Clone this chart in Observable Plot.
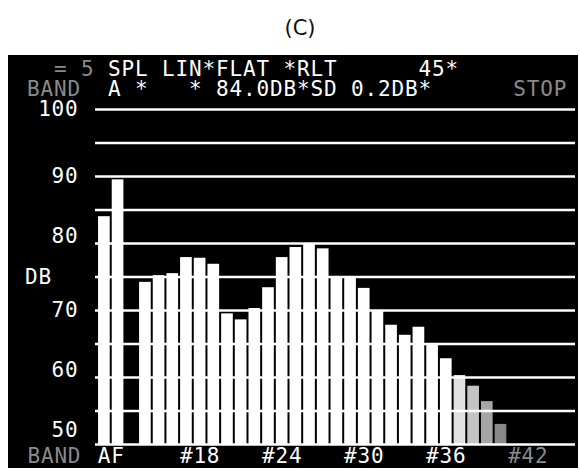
<!DOCTYPE html>
<html>
<head>
<meta charset="utf-8">
<script src="https://cdn.jsdelivr.net/npm/d3@7"></script>
<script src="https://cdn.jsdelivr.net/npm/@observablehq/plot@0.6"></script>
<style>
  html, body { margin: 0; padding: 0; background: #fff; }
  body { width: 580px; height: 470px; position: relative; overflow: hidden; }
  #title { position: absolute; left: 250px; top: 16px; width: 100px; text-align: center;
           font-family: "DejaVu Sans", sans-serif; font-size: 21px; line-height: 24px; color: #111; }
  #screen { position: absolute; left: 8px; top: 55px; width: 570px; height: 413px; background: #000; overflow: hidden; }
  #screen svg { position: absolute; left: 0; top: 0; }
  #screen svg text { letter-spacing: 0.8px; }
  .hdr { position: absolute; left: 19px; top: 4px; margin: 0; white-space: pre; color: #fff;
         font-family: "DejaVu Sans Mono", monospace; font-size: 21px; line-height: 20px; letter-spacing: 0.86px; }
  .dim { color: #8a8a8a; }
</style>
</head>
<body>
<div id="title">(C)</div>
<div id="screen">
  <div class="hdr"><span class="dim">  = 5</span> SPL LIN*FLAT *RLT      45*
<span class="dim">BAND</span>  A *   * 84.0DB*SD 0.2DB*      <span class="dim">STOP</span></div>
</div>
<script>
// Overall levels (A-weighted and Flat) shown as the first two bars
const overallNames = ["A", "F"];
const overallLevels = [84.0, 89.5];

// One-third-octave band numbers and their levels (dB)
const bandNumbers = [14, 15, 16, 17, 18, 19, 20, 21, 22, 23, 24, 25, 26, 27,
                     28, 29, 30, 31, 32, 33, 34, 35, 36, 37, 38, 39, 40];
const bandLevels  = [74.2, 75.2, 75.5, 77.9, 77.8, 76.9, 69.5, 68.6, 70.3, 73.4, 77.9, 79.4, 80.0, 79.2,
                     74.9, 74.9, 73.3, 69.9, 67.8, 66.3, 67.5, 64.9, 62.8, 60.3, 58.7, 56.4, 53.0];

// Axis ticks and labels
const gridLevels = [50, 55, 60, 65, 70, 75, 80, 85, 90, 95, 100];
const yTickLevelsRowA = [70, 90, 100];
const yTickLevelsRowB = [60, 80];
const yTickLevelsRowC = [50];
const xTickLabels = ["AF", "#18", "#24", "#30", "#36", "#42"];
const xTickBands  = [11.5, 18, 24, 30, 36, 42];

const overallSlots = [11, 12];
const bars = [
  ...overallNames.map((name, i) => ({band: overallSlots[i], level: overallLevels[i], name})),
  ...bandNumbers.map((b, i) => ({band: b, level: bandLevels[i], name: "#" + b}))
];
const xTicks = xTickLabels.map((label, i) => ({label, band: xTickBands[i], dim: label === "#42"}));

const shade = d3.scaleLinear([36, 40], ["#ffffff", "#888888"]).clamp(true);
const mono = "DejaVu Sans Mono, monospace";
const yAxisStyle = {tickSize: 0, tickPadding: 17, fontSize: 21, fontFamily: mono, fill: "#fff", label: null};

const chart = Plot.plot({
  width: 570,
  height: 413,
  marginTop: 54,
  marginBottom: 24,
  marginLeft: 87,
  marginRight: 3,
  style: {background: "transparent", color: "#fff", fontFamily: mono, fontSize: "21px"},
  x: {type: "linear", domain: [10.35, 45.45], axis: null},
  y: {domain: [50, 100], axis: null},
  marks: [
    Plot.rect(bars, {
      x1: d => d.band - 0.5, x2: d => d.band + 0.5, y1: 50, y2: "level",
      fill: d => d.band > 36 ? shade(d.band) : "#fff",
      insetLeft: 1, insetRight: 1
    }),
    Plot.ruleY(gridLevels, {stroke: "#fff", strokeWidth: 2.5}),
    Plot.axisY(yTickLevelsRowA, {...yAxisStyle, dy: 0}),
    Plot.axisY(yTickLevelsRowB, {...yAxisStyle, dy: -7}),
    Plot.axisY(yTickLevelsRowC, {...yAxisStyle, dy: -14}),
    Plot.text(xTicks, {x: "band", text: "label", frameAnchor: "bottom", dy: 18,
                       fontSize: 21, fontFamily: mono, fill: d => d.dim ? "#8a8a8a" : "#fff"}),
    Plot.text(["DB"], {frameAnchor: "left", dx: -57, textAnchor: "middle", fontSize: 21, fontFamily: mono, fill: "#fff"}),
    Plot.text(["BAND"], {frameAnchor: "bottom-left", dx: -68, dy: 18, textAnchor: "start",
                         fontSize: 21, fontFamily: mono, fill: "#8a8a8a"})
  ]
});
document.getElementById("screen").appendChild(chart);
</script>
</body>
</html>
